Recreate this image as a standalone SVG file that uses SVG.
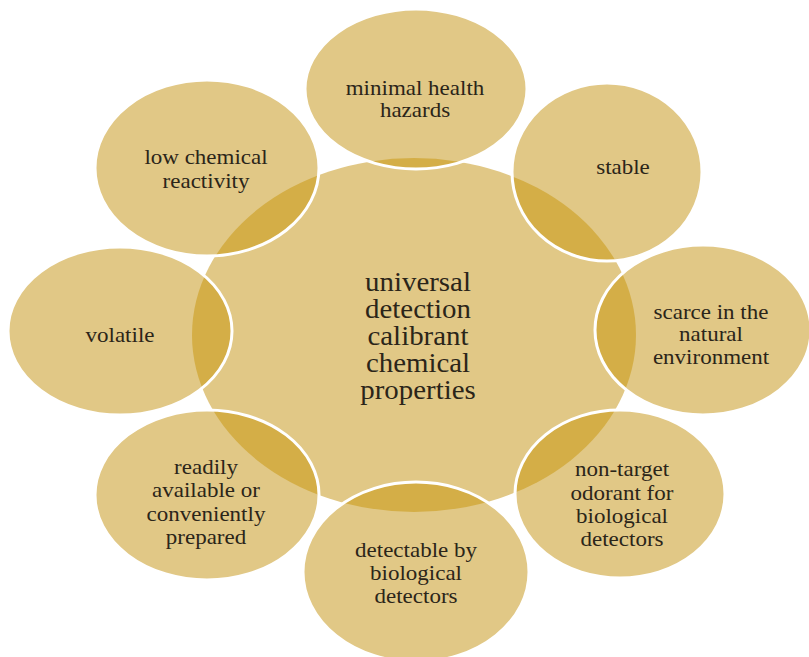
<svg xmlns="http://www.w3.org/2000/svg" xmlns:xlink="http://www.w3.org/1999/xlink" width="809" height="657" viewBox="0 0 809 657">
  <style>
    .disc { fill: #E1C886; }
    .lens { fill: #D4AE47; }
    .rim { fill: none; stroke: #FFFFFF; stroke-width: 3; }
    .label { font-family: 'Liberation Serif', 'DejaVu Serif', 'Times New Roman', serif; fill: #2B2519; text-anchor: middle; }
    .sat { font-size: 20px; }
    .hub { font-size: 27px; }
  </style>
  <defs>
    <!-- bare shapes, styled where they are used -->
    <ellipse id="e-center" cx="414" cy="335" rx="222" ry="177"/>
    <ellipse id="e-hazards" cx="416" cy="89" rx="111" ry="80"/>
    <ellipse id="e-stable" cx="607" cy="172" rx="95" ry="89"/>
    <ellipse id="e-scarce" cx="703" cy="330" rx="108" ry="85"/>
    <ellipse id="e-odorant" cx="620" cy="494" rx="105" ry="84"/>
    <ellipse id="e-detectable" cx="416" cy="572" rx="113" ry="90"/>
    <ellipse id="e-available" cx="207" cy="495" rx="112" ry="85"/>
    <ellipse id="e-volatile" cx="120" cy="331" rx="112" ry="84"/>
    <ellipse id="e-reactivity" cx="207" cy="168" rx="112" ry="88"/>
    <clipPath id="clip-center"><use href="#e-center"/></clipPath>
  </defs>

  <rect width="809" height="657" fill="#FFFFFF"/>

  <!-- central disc -->
  <g id="node-center">
    <use href="#e-center" class="disc"/>
  </g>

  <!-- outer property discs: plain fill, darker lens where they overlap the hub, white rim;
       labels are widened a little to suit the broad discs -->
  <g id="node-hazards">
    <use href="#e-hazards" class="disc"/>
    <use href="#e-hazards" class="lens" clip-path="url(#clip-center)"/>
    <use href="#e-hazards" class="rim"/>
    <g transform="translate(415 0) scale(1.15 1)">
      <text class="label sat" x="0" y="95">minimal health</text>
      <text class="label sat" x="0" y="117">hazards</text>
    </g>
  </g>

  <g id="node-stable">
    <use href="#e-stable" class="disc"/>
    <use href="#e-stable" class="lens" clip-path="url(#clip-center)"/>
    <use href="#e-stable" class="rim"/>
    <g transform="translate(623 0) scale(1.15 1)">
      <text class="label sat" x="0" y="174">stable</text>
    </g>
  </g>

  <g id="node-scarce">
    <use href="#e-scarce" class="disc"/>
    <use href="#e-scarce" class="lens" clip-path="url(#clip-center)"/>
    <use href="#e-scarce" class="rim"/>
    <g transform="translate(711 0) scale(1.15 1)">
      <text class="label sat" x="0" y="319">scarce in the</text>
      <text class="label sat" x="0" y="341">natural</text>
      <text class="label sat" x="0" y="364">environment</text>
    </g>
  </g>

  <g id="node-odorant">
    <use href="#e-odorant" class="disc"/>
    <use href="#e-odorant" class="lens" clip-path="url(#clip-center)"/>
    <use href="#e-odorant" class="rim"/>
    <g transform="translate(622 0) scale(1.15 1)">
      <text class="label sat" x="0" y="476">non-target</text>
      <text class="label sat" x="0" y="500">odorant for</text>
      <text class="label sat" x="0" y="523">biological</text>
      <text class="label sat" x="0" y="546">detectors</text>
    </g>
  </g>

  <g id="node-detectable">
    <use href="#e-detectable" class="disc"/>
    <use href="#e-detectable" class="lens" clip-path="url(#clip-center)"/>
    <use href="#e-detectable" class="rim"/>
    <g transform="translate(416 0) scale(1.15 1)">
      <text class="label sat" x="0" y="557">detectable by</text>
      <text class="label sat" x="0" y="580">biological</text>
      <text class="label sat" x="0" y="603">detectors</text>
    </g>
  </g>

  <g id="node-available">
    <use href="#e-available" class="disc"/>
    <use href="#e-available" class="lens" clip-path="url(#clip-center)"/>
    <use href="#e-available" class="rim"/>
    <g transform="translate(206 0) scale(1.15 1)">
      <text class="label sat" x="0" y="474">readily</text>
      <text class="label sat" x="0" y="497">available or</text>
      <text class="label sat" x="0" y="521">conveniently</text>
      <text class="label sat" x="0" y="544">prepared</text>
    </g>
  </g>

  <g id="node-volatile">
    <use href="#e-volatile" class="disc"/>
    <use href="#e-volatile" class="lens" clip-path="url(#clip-center)"/>
    <use href="#e-volatile" class="rim"/>
    <g transform="translate(120 0) scale(1.15 1)">
      <text class="label sat" x="0" y="342">volatile</text>
    </g>
  </g>

  <g id="node-reactivity">
    <use href="#e-reactivity" class="disc"/>
    <use href="#e-reactivity" class="lens" clip-path="url(#clip-center)"/>
    <use href="#e-reactivity" class="rim"/>
    <g transform="translate(206 0) scale(1.15 1)">
      <text class="label sat" x="0" y="164">low chemical</text>
      <text class="label sat" x="0" y="188">reactivity</text>
    </g>
  </g>

  <!-- hub label on top -->
  <g id="label-center" transform="translate(418 0) scale(1.07 1)">
    <text class="label hub" x="0" y="291">universal</text>
    <text class="label hub" x="0" y="318">detection</text>
    <text class="label hub" x="0" y="345">calibrant</text>
    <text class="label hub" x="0" y="372">chemical</text>
    <text class="label hub" x="0" y="399">properties</text>
  </g>

  <g id="connectors"/>
</svg>
